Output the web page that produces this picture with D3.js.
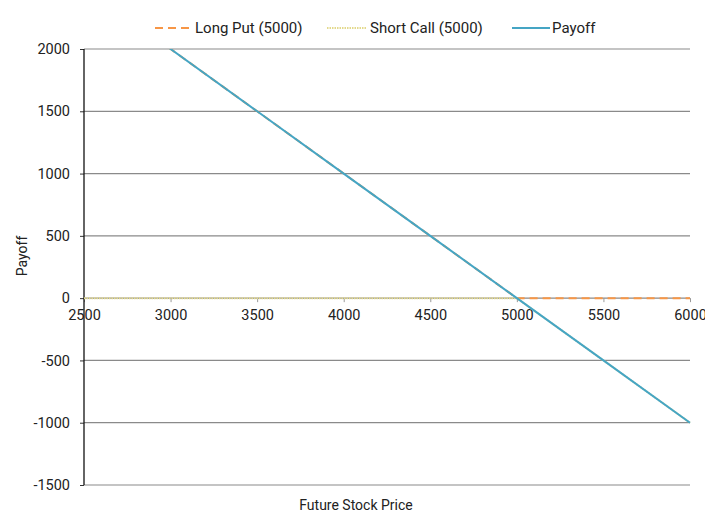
<!DOCTYPE html>
<html><head><meta charset="utf-8">
<script src="https://cdn.jsdelivr.net/npm/d3@7"></script>
<style>body{margin:0;background:#fff;} text{font-family:Roboto,"Noto Sans",sans-serif;fill:#222;}</style>
</head><body>
<svg id="c" width="705" height="513"></svg>
<script>
const prices = [2500,3000,3500,4000,4500,5000,5500,6000];
const longPut = [2500,2000,1500,1000,500,0,0,0];
const shortCall = [0,0,0,0,0,0,-500,-1000];
const payoff = [2500,2000,1500,1000,500,0,-500,-1000];
const yTicks = [-1500,-1000,-500,0,500,1000,1500,2000];
const xTicks = [2500,3000,3500,4000,4500,5000,5500,6000];
const seriesNames = ["Long Put (5000)","Short Call (5000)","Payoff"];

const svg = d3.select("#c");
const L=84, R=690, T=49, B=485;
const x = d3.scaleLinear().domain([2500,6000]).range([L,R]);
const y = d3.scaleLinear().domain([-1500,2000]).range([B,T]);
const fmt = d => String(d);

svg.append("defs").append("clipPath").attr("id","pc")
  .append("rect").attr("x",L).attr("y",T).attr("width",R-L+2).attr("height",B-T);

const yAx = d3.axisLeft(y).tickValues(yTicks).tickSize(4).tickPadding(10).tickFormat(fmt);
const gy = svg.append("g").attr("transform",`translate(${L},0)`).call(yAx);
gy.select(".domain").remove();
gy.selectAll(".tick line").attr("stroke","#333");
gy.selectAll(".tick text").style("font-size","14.5px").attr("fill","#222");
svg.append("g").selectAll("line").data(yTicks).join("line")
  .attr("x1",L).attr("x2",R).attr("y1",d=>y(d)).attr("y2",d=>y(d))
  .attr("stroke","#8a8a8a").attr("stroke-width",1.2);

const xAx = d3.axisBottom(x).tickValues(xTicks).tickSize(4).tickPadding(8).tickFormat(fmt);
const gx = svg.append("g").attr("transform",`translate(0,${y(0)})`).call(xAx);
gx.select(".domain").remove();
gx.selectAll(".tick line").attr("stroke","#999");
gx.selectAll(".tick text").style("font-size","14.5px").attr("fill","#222");

svg.append("line").attr("x1",L).attr("x2",L).attr("y1",T).attr("y2",B).attr("stroke","#111").attr("stroke-width",1.3);

const line = vals => d3.line().x((d,i)=>x(prices[i])).y(d=>y(d))(vals);
const plot = svg.append("g").attr("clip-path","url(#pc)");
plot.append("path").attr("d",line(longPut)).attr("fill","none").attr("stroke","#F79646").attr("stroke-width",2).attr("stroke-dasharray","8,5");
plot.append("path").attr("d",line(shortCall)).attr("fill","none").attr("stroke","#E3D98C").attr("stroke-width",2).attr("stroke-dasharray","1.5,1");
plot.append("path").attr("d",line(payoff)).attr("fill","none").attr("stroke","#45A5C4").attr("stroke-width",2);

const lg = svg.append("g");
const leg = [
  {name:seriesNames[0], x0:155, x1:192, tx:195, color:"#F79646", dash:"8,5"},
  {name:seriesNames[1], x0:327, x1:367, tx:370, color:"#E3D98C", dash:"1.5,1"},
  {name:seriesNames[2], x0:512, x1:550, tx:552, color:"#45A5C4", dash:null}
];
leg.forEach(d=>{
  lg.append("line").attr("x1",d.x0).attr("x2",d.x1).attr("y1",28).attr("y2",28)
    .attr("stroke",d.color).attr("stroke-width",2).attr("stroke-dasharray",d.dash);
  lg.append("text").attr("x",d.tx).attr("y",33).style("font-size","15px").text(d.name);
});

svg.append("text").attr("x",356).attr("y",510).attr("text-anchor","middle").style("font-size","14px").text("Future Stock Price");
svg.append("text").attr("transform","translate(27,256) rotate(-90)").attr("text-anchor","middle").style("font-size","14px").text("Payoff");
</script>
</body></html>
